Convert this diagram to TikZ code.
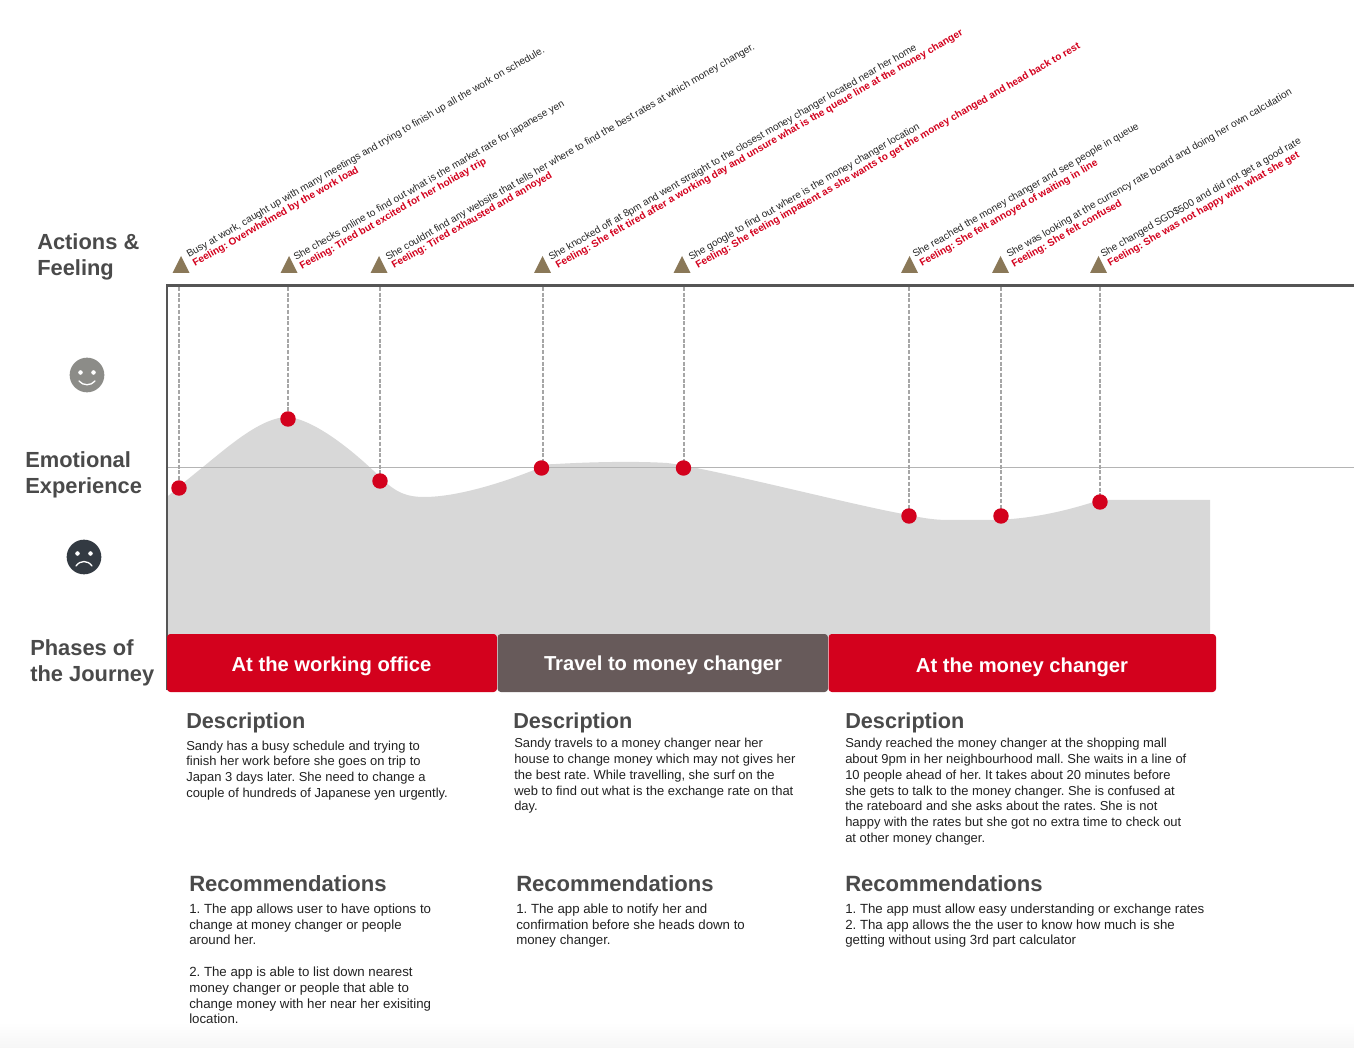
\documentclass[tikz,border=0pt]{standalone}
\usepackage{fontspec}
\setmainfont{Liberation Sans}
\definecolor{jred}{HTML}{D3011D}
\definecolor{jbrown}{HTML}{675A5A}
\definecolor{jtext}{HTML}{4A4A4A}
\definecolor{jbody}{HTML}{222222}
\definecolor{jtan}{HTML}{8A7858}
\definecolor{jarea}{HTML}{D8D8D8}
\definecolor{jaxis}{HTML}{555555}
\definecolor{jhappy}{HTML}{8C8C88}
\definecolor{jsad}{HTML}{333A42}
\definecolor{jdrop}{HTML}{A6A6A6}
\definecolor{jmid}{HTML}{B4B4B4}
\definecolor{jfoot}{HTML}{F6F6F6}
\pgfdeclarelayer{back}
\pgfsetlayers{back,main}
\tikzset{
  x=0.75pt,y=-0.75pt,
  lab/.style={font=\fontsize{16.4pt}{19.5pt}\selectfont\bfseries,text=jtext,anchor=north west,inner sep=0pt,align=left},
  headd/.style={font=\fontsize{16.25pt}{19pt}\selectfont\bfseries,text=jtext,anchor=west,inner sep=0pt},
  headr/.style={font=\fontsize{16.55pt}{19pt}\selectfont\bfseries,text=jtext,anchor=west,inner sep=0pt},
  body/.style={font=\fontsize{9.73pt}{11.85pt}\selectfont,text=jbody,anchor=north west,inner sep=0pt,align=left},
  recs/.style={font=\fontsize{9.95pt}{11.85pt}\selectfont,text=jbody,anchor=north west,inner sep=0pt,align=left},
  act/.style={font=\fontsize{7.55pt}{9pt}\selectfont,text=black!85,rotate=30,anchor=south west,inner sep=0pt},
  feel/.style={font=\fontsize{7.55pt}{9pt}\selectfont\bfseries,text=jred,rotate=30,anchor=south west,inner sep=0pt},
  tri/.style={fill=jtan,draw=none},
  drop/.style={draw=jdrop,line width=0.85pt,dash pattern=on 3pt off 1.3pt},
  dot/.style={circle,fill=jred,draw=none,minimum size=11.6pt,inner sep=0pt},
  phase/.style={font=\fontsize{15.15pt}{18pt}\selectfont\bfseries,text=white,anchor=center,inner sep=0pt},
}
\begin{document}
\frenchspacing
\begin{tikzpicture}
\useasboundingbox (0,0) rectangle (1354,1048);
\node[dot] (d1) at (179,488) {};
\node[dot] (d2) at (288,419) {};
\node[dot] (d3) at (380,481) {};
\node[dot] (d4) at (541.5,468) {};
\node[dot] (d5) at (683.5,468) {};
\node[dot] (d6) at (909,516) {};
\node[dot] (d7) at (1001,516) {};
\node[dot] (d8) at (1100,502) {};
\coordinate (t1) at (179,287);\coordinate (t2) at (288,287);\coordinate (t3) at (380,287);\coordinate (t4) at (543,287);
\coordinate (t5) at (684,287);\coordinate (t6) at (909,287);\coordinate (t7) at (1001,287);\coordinate (t8) at (1100,287);
\begin{pgfonlayer}{back}
\fill[white] (0,0) rectangle (1354,1048);
\shade[top color=white,bottom color=jfoot,draw=none] (0,1022) rectangle (1354,1048);
\fill[jarea] (167,636) -- (167,497) .. controls (178,487) and (192,476) .. (203,467)
  .. controls (230,445) and (262,417) .. (288,417)
  .. controls (315,420) and (352,450) .. (378,475)
  .. controls (392,489) and (402,497) .. (424,497)
  .. controls (460,497) and (510,480) .. (539,468)
  .. controls (544,465) and (548,464) .. (556,464)
  .. controls (590,462) and (635,461) .. (667,463)
  .. controls (710,468) and (860,507) .. (909,515)
  .. controls (922,518) and (935,520) .. (948,520)
  -- (987,520)
  .. controls (1035,520) and (1075,508) .. (1100,500)
  -- (1210,500) -- (1210,636) -- cycle;
\draw[jmid,line width=0.8pt] (167,467.5) -- (1354,467.5);
\foreach \i in {1,...,8}{\draw[drop] (t\i) -- (t\i |- d\i.center);}
\end{pgfonlayer}
\draw[jaxis,line width=1.6pt] (167,690) -- (167,285.5) -- (1354,285.5);
% triangles
\foreach \x in {181,289,379,542.5,682,909.5,1000.5,1098.5}{\fill[tri] (\x-8.5,273) -- (\x,256) -- (\x+8.5,273) -- cycle;}
% row labels
\node[lab] (l1) at (37,233) {Actions \&\\Feeling};
\node[lab] (l2) at (25,451) {Emotional\\Experience};
\node[lab] (l3) at (30,639) {Phases of\\the Journey};
% faces
\fill[jhappy] (87,375) circle (13pt);
\fill[white] (80.5,372.5) circle (1.7pt) (93.5,372.5) circle (1.7pt);
\draw[white,line width=1pt,line cap=round] (79,381) .. controls (83,386) and (91,386) .. (95,381);
\fill[jsad] (84,557) circle (13pt);
\fill[white] (77.5,553.5) circle (1.7pt) (90.5,553.5) circle (1.7pt);
\draw[white,line width=1pt,line cap=round] (76,566) .. controls (80,560) and (88,560) .. (92,566);
% phases
\fill[jred,rounded corners=2.5pt] (167,634) rectangle (497,692);
\fill[jbrown,rounded corners=2.5pt] (497.5,634) rectangle (828,692);
\fill[jred,rounded corners=2.5pt] (828.5,634) rectangle (1216,692);
\node[phase] (p1) at (331.5,666) {At the working office};
\node[phase] (p2) at (663,665) {Travel to money changer};
\node[phase] (p3) at (1022,667.5) {At the money changer};
% descriptions
\node[headd] (h1) at (186,723) {Description};
\node[headd] (h2) at (513,723) {Description};
\node[headd] (h3) at (845,723) {Description};
\node[body] (b1) at (186,740.5) {Sandy has a busy schedule and trying to\\finish her work before she goes on trip to\\Japan 3 days later. She need to change a\\couple of hundreds of Japanese yen urgently.};
\node[body] (b2) at (514,738) {Sandy travels to a money changer near her\\house to change money which may not gives her\\the best rate. While travelling, she surf on the\\web to find out what is the exchange rate on that\\day.};
\node[body] (b3) at (845,738) {Sandy reached the money changer at the shopping mall\\about 9pm in her neighbourhood mall. She waits in a line of\\10 people ahead of her. It takes about 20 minutes before\\she gets to talk to the money changer. She is confused at\\the rateboard and she asks about the rates. She is not\\happy with the rates but she got no extra time to check out\\at other money changer.};
% recommendations
\node[headr] (r1) at (189,883.5) {Recommendations};
\node[headr] (r2) at (516,883.5) {Recommendations};
\node[headr] (r3) at (845,883.5) {Recommendations};
\node[recs] (c1) at (189,903.5) {1. The app allows user to have options to\\change at money changer or people\\around her.\\[11.85pt]2. The app is able to list down nearest\\money changer or people that able to\\change money with her near her exisiting\\location.};
\node[recs] (c2) at (516,903.5) {1. The app able to notify her and\\confirmation before she heads down to\\money changer.};
\node[recs] (c3) at (845,903.5) {1. The app must allow easy understanding or exchange rates\\2. Tha app allows the the user to know how much is she\\getting without using 3rd part calculator};
% actions
\node[act] (a1) at (190,260) {Busy at work, caught up with many meetings and trying to finish up all the work on schedule.};
\node[feel] (f1) at (196,269) {Feeling: Overwhelmed by the work load};
\node[act] (a2) at (297,263) {She checks online to find out what is the market rate for japanese yen};
\node[feel] (f2) at (303,272) {Feeling: Tired but excited for her holiday trip};
\node[act] (a3) at (389,263) {She couldnt find any website that tells her where to find the best rates at which money changer.};
\node[feel] (f3) at (395,271) {Feeling: Tired exhausted and annoyed};
\node[act] (a4) at (552,263) {She knocked off at 8pm and went straight to the closest money changer located near her home};
\node[feel] (f4) at (559,271) {Feeling: She felt tired after a working day and unsure what is the queue line at the money changer};
\node[act] (a5) at (692,263) {She google to find out where is the money changer location};
\node[feel] (f5) at (699,271) {Feeling: She feeling impatient as she wants to get the money changed and head back to rest};
\node[act] (a6) at (916,260) {She reached the money changer and see people in queue};
\node[feel] (f6) at (923,269) {Feeling: She felt annoyed of waiting in line};
\node[act] (a7) at (1010,260) {She was looking at the currency rate board and doing her own calculation};
\node[feel] (f7) at (1015,270) {Feeling: She felt confused};
\node[act] (a8) at (1104,260) {She changed SGD\$500 and did not get a good rate};
\node[feel] (f8) at (1111,269) {Feeling: She was not happy with what she get};
\end{tikzpicture}
\end{document}
